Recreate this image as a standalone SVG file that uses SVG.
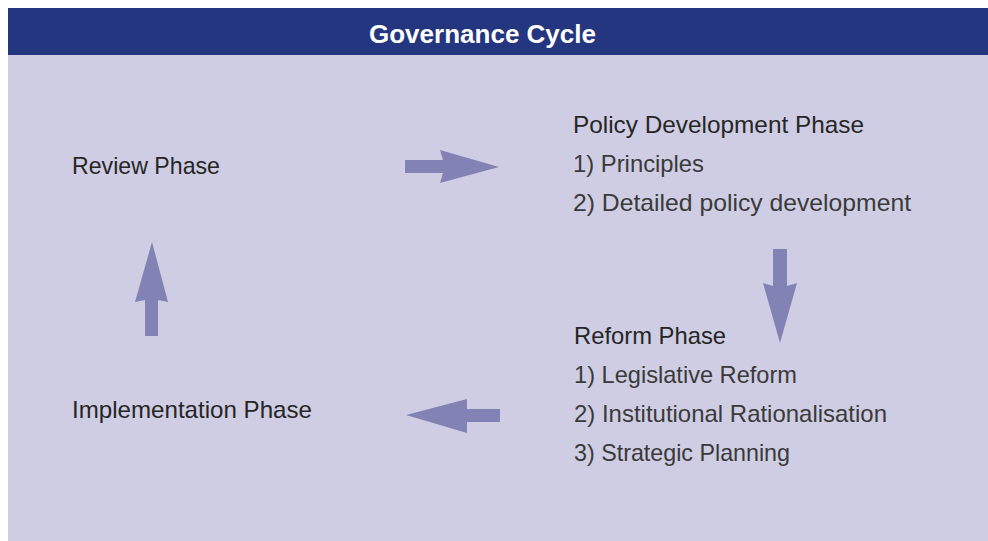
<svg xmlns="http://www.w3.org/2000/svg" width="988" height="541" viewBox="0 0 988 541">
<style>
.h{font-family:"Liberation Sans",Arial,sans-serif;font-size:24px;fill:#262626}
.i{font-family:"Liberation Sans",Arial,sans-serif;font-size:24px;fill:#3a3a3a}
.t{font-family:"Liberation Sans",Arial,sans-serif;font-size:26px;font-weight:bold;fill:#ffffff}
.arr{fill:#8382b5}
</style>
<rect x="0" y="0" width="988" height="541" fill="#ffffff"/>
<rect x="8" y="55" width="980" height="486" fill="#cfcde3"/>
<g id="header">
<rect x="8" y="8" width="980" height="47" fill="#243680"/>
<text class="t" x="482.5" y="43" text-anchor="middle" textLength="227" lengthAdjust="spacingAndGlyphs">Governance Cycle</text>
</g>
<g id="review">
<text class="h" x="72" y="174" textLength="148" lengthAdjust="spacingAndGlyphs">Review Phase</text>
</g>
<g id="policy">
<text class="h" x="573" y="133" textLength="291" lengthAdjust="spacingAndGlyphs">Policy Development Phase</text>
<text class="i" x="573" y="172" textLength="131" lengthAdjust="spacingAndGlyphs">1) Principles</text>
<text class="i" x="573" y="211" textLength="338" lengthAdjust="spacingAndGlyphs">2) Detailed policy development</text>
</g>
<g id="reform">
<text class="h" x="574" y="344" textLength="152" lengthAdjust="spacingAndGlyphs">Reform Phase</text>
<text class="i" x="574" y="383" textLength="223" lengthAdjust="spacingAndGlyphs">1) Legislative Reform</text>
<text class="i" x="574" y="422" textLength="313" lengthAdjust="spacingAndGlyphs">2) Institutional Rationalisation</text>
<text class="i" x="574" y="461" textLength="216" lengthAdjust="spacingAndGlyphs">3) Strategic Planning</text>
</g>
<g id="implementation">
<text class="h" x="72" y="418" textLength="240" lengthAdjust="spacingAndGlyphs">Implementation Phase</text>
</g>
<g id="connectors">
<polygon class="arr" points="405,160 443,160 440,150 499,167 440,183 443,173 405,173"/>
<polygon class="arr" points="773,249 787,249 787,286 797,283 780,343 763,283 773,286"/>
<polygon class="arr" points="500,409 467,409 467,399 406,415 467,433 467,422 500,422"/>
<polygon class="arr" points="145,336 145,300 135,302 152,242 168,302 158,300 158,336"/>
</g>
</svg>
